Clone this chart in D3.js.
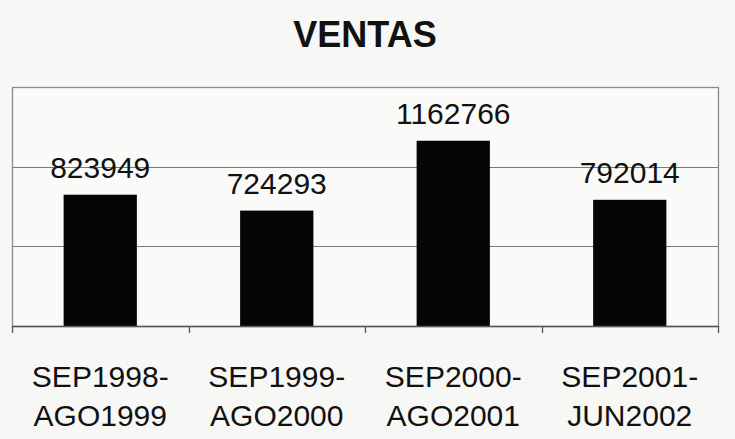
<!DOCTYPE html>
<html>
<head>
<meta charset="utf-8">
<script src="https://cdn.jsdelivr.net/npm/d3@7"></script>
<style>
  body { margin: 0; background: #f7f7f6; }
  text { font-family: "Liberation Sans", Arial, sans-serif; fill: #111; }
</style>
</head>
<body>
<div id="app"></div>
<script>
// data
let periods = [["SEP1998-", "AGO1999"], ["SEP1999-", "AGO2000"], ["SEP2000-", "AGO2001"], ["SEP2001-", "JUN2002"]]
let ventas = [823949, 724293, 1162766, 792014]
let gridValues = [500000, 1000000]

let width = 735
let height = 439
let plot = {left: 12, right: 718, top: 87, bottom: 326}

let svg = d3.select("#app").append("svg")
    .attr("width", width)
    .attr("height", height)

let keys = periods.map(p => p.join(""))

let x = d3.scaleBand()
    .domain(keys)
    .range([plot.left, plot.right])
    .padding(0)

let y = d3.scaleLinear()
    .domain([0, 1500000])
    .range([plot.bottom, plot.top])

let barW = x.bandwidth() * 0.415

// plot area frame
svg.append("rect")
    .attr("x", plot.left + 0.5)
    .attr("y", plot.top + 0.5)
    .attr("width", plot.right - plot.left)
    .attr("height", plot.bottom - plot.top)
    .attr("fill", "#fafaf9")
    .attr("stroke", "#8a8a8a")
    .attr("stroke-width", 1.3)

// gridlines
svg.append("g").selectAll("line")
    .data(gridValues)
    .enter().append("line")
    .attr("x1", plot.left)
    .attr("x2", plot.right)
    .attr("y1", d => Math.round(y(d)) + 0.5)
    .attr("y2", d => Math.round(y(d)) + 0.5)
    .attr("stroke", "#7a7a7a")
    .attr("stroke-width", 1.2)

// bars
svg.append("g").selectAll("rect")
    .data(ventas)
    .enter().append("rect")
    .attr("x", (d, i) => x(keys[i]) + x.bandwidth() / 2 - barW / 2)
    .attr("y", d => y(d))
    .attr("width", barW)
    .attr("height", d => y(0) - y(d))
    .attr("fill", "#050505")

// value labels
svg.append("g").selectAll("text")
    .data(ventas)
    .enter().append("text")
    .attr("x", (d, i) => x(keys[i]) + x.bandwidth() / 2)
    .attr("y", d => y(d) - 17)
    .attr("text-anchor", "middle")
    .attr("font-size", 30)
    .text(d => d)

// x axis line and tick marks at category boundaries
svg.append("line")
    .attr("x1", plot.left)
    .attr("x2", plot.right)
    .attr("y1", plot.bottom + 0.5)
    .attr("y2", plot.bottom + 0.5)
    .attr("stroke", "#555")
    .attr("stroke-width", 1.3)

let bounds = keys.map(k => x(k)).concat([plot.right])
svg.append("g").selectAll("line")
    .data(bounds)
    .enter().append("line")
    .attr("x1", d => Math.round(d) + 0.5)
    .attr("x2", d => Math.round(d) + 0.5)
    .attr("y1", plot.bottom)
    .attr("y2", plot.bottom + 7)
    .attr("stroke", "#555")
    .attr("stroke-width", 1.3)

// category labels
let cat = svg.append("g").selectAll("text")
    .data(periods)
    .enter().append("text")
    .attr("text-anchor", "middle")
    .attr("font-size", 30)

cat.append("tspan")
    .attr("x", (d, i) => x(keys[i]) + x.bandwidth() / 2)
    .attr("y", 387)
    .text(d => d[0])

cat.append("tspan")
    .attr("x", (d, i) => x(keys[i]) + x.bandwidth() / 2)
    .attr("y", 426)
    .text(d => d[1])

// title
svg.append("text")
    .attr("x", 365)
    .attr("y", 47)
    .attr("text-anchor", "middle")
    .attr("font-size", 36)
    .attr("font-weight", "bold")
    .text("VENTAS")
</script>
</body>
</html>
